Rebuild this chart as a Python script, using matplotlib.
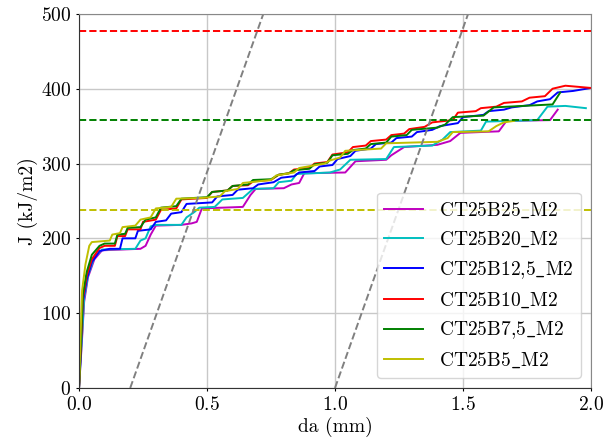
import matplotlib
matplotlib.use('Agg')
import matplotlib.pyplot as plt

plt.rcParams['font.family'] = 'serif'
plt.rcParams['font.serif'] = ['cmr10', 'DejaVu Serif']
plt.rcParams['mathtext.fontset'] = 'cm'
plt.rcParams['axes.formatter.use_mathtext'] = True

# J-R curves, da (mm) vs J (kJ/m2)
da_b25 = [0, 0.01, 0.02, 0.035, 0.06, 0.09, 0.24, 0.26, 0.28, 0.30, 0.40, 0.44, 0.46, 0.48, 0.64, 0.67, 0.69, 0.80, 0.83, 0.86, 0.88, 1.04, 1.08, 1.20, 1.22, 1.27, 1.40, 1.45, 1.49, 1.64, 1.67, 1.84, 1.87]
J_b25 = [0, 55, 115, 148, 172, 184, 186, 190, 205, 217, 218, 220, 222, 240, 242, 258, 266, 267, 272, 274, 287, 288, 303, 305, 311, 322, 325, 330, 341, 343, 357, 358, 372]

da_b20 = [0, 0.01, 0.02, 0.035, 0.06, 0.09, 0.22, 0.24, 0.26, 0.28, 0.30, 0.40, 0.42, 0.45, 0.47, 0.53, 0.56, 0.64, 0.68, 0.76, 0.78, 0.83, 0.85, 0.98, 1.02, 1.06, 1.20, 1.23, 1.38, 1.42, 1.45, 1.57, 1.59, 1.79, 1.83, 1.90, 1.98]
J_b20 = [0, 60, 120, 150, 175, 185, 186, 197, 200, 216, 218, 218, 228, 235, 241, 242, 252, 254, 266, 267, 275, 277, 286, 288, 292, 305, 306, 322, 324, 332, 342, 344, 356, 358, 376, 377, 374]

da_b125 = [0, 0.008, 0.015, 0.03, 0.05, 0.08, 0.12, 0.16, 0.17, 0.22, 0.23, 0.28, 0.30, 0.34, 0.36, 0.40, 0.42, 0.52, 0.54, 0.60, 0.62, 0.68, 0.70, 0.76, 0.79, 0.84, 0.86, 0.92, 0.94, 0.99, 1.01, 1.06, 1.08, 1.14, 1.16, 1.22, 1.24, 1.30, 1.32, 1.38, 1.41, 1.48, 1.50, 1.58, 1.60, 1.66, 1.69, 1.76, 1.79, 1.84, 1.87, 1.93, 2.0]
J_b125 = [0, 55, 115, 145, 168, 183, 186, 186, 200, 200, 210, 212, 222, 224, 233, 235, 246, 248, 256, 258, 265, 267, 272, 275, 281, 283, 288, 290, 296, 298, 306, 310, 317, 320, 326, 328, 334, 336, 342, 345, 350, 354, 362, 365, 370, 372, 375, 378, 383, 386, 395, 397, 401]

da_b10 = [0, 0.008, 0.015, 0.03, 0.05, 0.08, 0.10, 0.14, 0.15, 0.18, 0.19, 0.24, 0.25, 0.30, 0.32, 0.38, 0.40, 0.50, 0.52, 0.58, 0.60, 0.66, 0.68, 0.75, 0.78, 0.82, 0.84, 0.90, 0.92, 0.97, 0.99, 1.05, 1.07, 1.12, 1.14, 1.20, 1.22, 1.27, 1.29, 1.35, 1.38, 1.46, 1.48, 1.55, 1.57, 1.63, 1.66, 1.73, 1.76, 1.82, 1.85, 1.90, 2.0]
J_b10 = [0, 60, 120, 150, 172, 187, 190, 190, 203, 203, 212, 212, 222, 225, 238, 240, 252, 254, 262, 264, 270, 271, 276, 278, 285, 287, 292, 294, 300, 302, 312, 315, 322, 324, 330, 332, 338, 340, 346, 349, 355, 358, 368, 370, 374, 376, 381, 383, 388, 390, 400, 404, 401]

da_b75 = [0, 0.008, 0.015, 0.03, 0.05, 0.08, 0.10, 0.14, 0.15, 0.18, 0.19, 0.24, 0.26, 0.30, 0.32, 0.38, 0.40, 0.50, 0.52, 0.58, 0.60, 0.66, 0.68, 0.75, 0.78, 0.82, 0.84, 0.90, 0.92, 0.97, 0.99, 1.05, 1.07, 1.12, 1.14, 1.20, 1.22, 1.28, 1.30, 1.40, 1.43, 1.46, 1.58, 1.62, 1.85, 1.88]
J_b75 = [0, 65, 125, 155, 178, 190, 193, 193, 205, 206, 214, 215, 225, 228, 241, 243, 253, 255, 262, 264, 270, 272, 278, 279, 285, 287, 291, 293, 299, 301, 311, 313, 318, 320, 326, 328, 336, 338, 345, 348, 352, 362, 364, 375, 379, 395]

da_b5 = [0, 0.006, 0.012, 0.025, 0.04, 0.05, 0.12, 0.13, 0.16, 0.17, 0.22, 0.24, 0.28, 0.30, 0.36, 0.38, 0.48, 0.55, 0.57, 0.62, 0.64, 0.75, 0.77, 0.84, 0.86, 0.96, 0.98, 1.02, 1.04, 1.18, 1.20, 1.40, 1.44, 1.46, 1.60, 1.63, 1.66, 1.70]
J_b5 = [0, 70, 130, 165, 190, 195, 197, 205, 207, 215, 217, 225, 228, 240, 242, 253, 254, 256, 263, 266, 274, 278, 284, 288, 294, 300, 304, 308, 317, 320, 327, 329, 334, 342, 343, 350, 355, 357]

labels = [r'CT25B25$\_$M2', r'CT25B20$\_$M2', r'CT25B12,5$\_$M2',
          r'CT25B10$\_$M2', r'CT25B7,5$\_$M2', r'CT25B5$\_$M2']
colors = ['m', 'c', 'b', 'r', 'g', 'y']

# horizontal limit lines
J_limits = [477, 357.75, 238.5]
limit_colors = ['r', 'g', 'y']

# offset lines (endpoints)
off1_da = [0.2, 0.72]
off2_da = [1.0, 1.52]
off_J = [0, 500]

fig, ax = plt.subplots(figsize=(6.14, 4.48), dpi=100)
fig.subplots_adjust(left=0.1287, right=0.9625, bottom=0.134, top=0.969)

curves = [(da_b25, J_b25), (da_b20, J_b20), (da_b125, J_b125),
          (da_b10, J_b10), (da_b75, J_b75), (da_b5, J_b5)]
for (x, y), lab, c in zip(curves, labels, colors):
    ax.plot(x, y, color=c, lw=1.4, label=lab)

for Jl, c in zip(J_limits, limit_colors):
    ax.axhline(Jl, color=c, ls='--', lw=1.4)

ax.plot(off1_da, off_J, color='gray', ls='--', lw=1.4)
ax.plot(off2_da, off_J, color='gray', ls='--', lw=1.4)

ax.set_xlim(0, 2.0)
ax.set_ylim(0, 500)
ax.set_xticks([0.0, 0.5, 1.0, 1.5, 2.0])
ax.set_yticks([0, 100, 200, 300, 400, 500])
ax.grid(True, color='#c8c8c8', lw=1.0)
ax.tick_params(labelsize=14, length=2)
ax.set_xlabel('da (mm)', fontsize=14, labelpad=2)
ax.set_ylabel('J (kJ/m2)', fontsize=14, labelpad=2)

for s in ['top', 'right']:
    ax.spines[s].set_color('#888888')
for s in ['left', 'bottom']:
    ax.spines[s].set_color('#333333')

ax.legend(loc='lower right', fontsize=14, framealpha=0.8)

fig.savefig('out.png', dpi=100)
